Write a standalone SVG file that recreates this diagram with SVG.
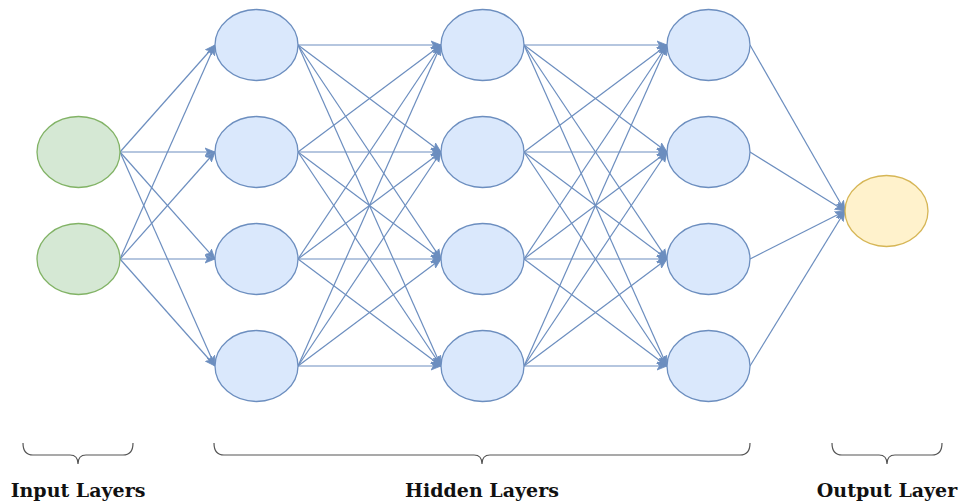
<svg xmlns="http://www.w3.org/2000/svg" width="963" height="504" viewBox="0 0 963 504">
<style>
.h{fill:#dae8fc;stroke:#6c8ebf;stroke-width:1.3}
.i{fill:#d5e8d4;stroke:#82b366;stroke-width:1.3}
.o{fill:#fff2cc;stroke:#d6b656;stroke-width:1.3}
.e{stroke:#6c8ebf;stroke-width:1.2;fill:none;marker-end:url(#a)}
.b{stroke:#555;stroke-width:1.2;fill:none}
.t{font-family:"DejaVu Serif",serif;font-weight:bold;font-size:19px;fill:#111;text-anchor:middle}
</style>
<defs>
<marker id="a" viewBox="0 0 10 10" refX="10" refY="5" markerWidth="10" markerHeight="10" markerUnits="userSpaceOnUse" orient="auto">
<path d="M0,1 L10,5 L0,9 L2.5,5 Z" fill="#6c8ebf" stroke="#6c8ebf" stroke-width="0.8"/>
</marker>
</defs>
<g id="connectors">
<path class="e" d="M120,152L215,45"/><path class="e" d="M120,152L215,152"/><path class="e" d="M120,152L215,259"/><path class="e" d="M120,152L215,366"/>
<path class="e" d="M120,259L215,45"/><path class="e" d="M120,259L215,152"/><path class="e" d="M120,259L215,259"/><path class="e" d="M120,259L215,366"/>
<path class="e" d="M298,45L441,45"/><path class="e" d="M298,45L441,152"/><path class="e" d="M298,45L441,259"/><path class="e" d="M298,45L441,366"/>
<path class="e" d="M298,152L441,45"/><path class="e" d="M298,152L441,152"/><path class="e" d="M298,152L441,259"/><path class="e" d="M298,152L441,366"/>
<path class="e" d="M298,259L441,45"/><path class="e" d="M298,259L441,152"/><path class="e" d="M298,259L441,259"/><path class="e" d="M298,259L441,366"/>
<path class="e" d="M298,366L441,45"/><path class="e" d="M298,366L441,152"/><path class="e" d="M298,366L441,259"/><path class="e" d="M298,366L441,366"/>
<path class="e" d="M524,45L667,45"/><path class="e" d="M524,45L667,152"/><path class="e" d="M524,45L667,259"/><path class="e" d="M524,45L667,366"/>
<path class="e" d="M524,152L667,45"/><path class="e" d="M524,152L667,152"/><path class="e" d="M524,152L667,259"/><path class="e" d="M524,152L667,366"/>
<path class="e" d="M524,259L667,45"/><path class="e" d="M524,259L667,152"/><path class="e" d="M524,259L667,259"/><path class="e" d="M524,259L667,366"/>
<path class="e" d="M524,366L667,45"/><path class="e" d="M524,366L667,152"/><path class="e" d="M524,366L667,259"/><path class="e" d="M524,366L667,366"/>
<path class="e" d="M750,45L845,211"/><path class="e" d="M750,152L845,211"/><path class="e" d="M750,259L845,211"/><path class="e" d="M750,366L845,211"/>
</g>
<g id="in1"><ellipse class="i" cx="78.5" cy="152" rx="41.5" ry="35.5"/></g>
<g id="in2"><ellipse class="i" cx="78.5" cy="259" rx="41.5" ry="35.5"/></g>
<g id="h1a"><ellipse class="h" cx="256.5" cy="45" rx="41.5" ry="35.5"/></g>
<g id="h1b"><ellipse class="h" cx="256.5" cy="152" rx="41.5" ry="35.5"/></g>
<g id="h1c"><ellipse class="h" cx="256.5" cy="259" rx="41.5" ry="35.5"/></g>
<g id="h1d"><ellipse class="h" cx="256.5" cy="366" rx="41.5" ry="35.5"/></g>
<g id="h2a"><ellipse class="h" cx="482.5" cy="45" rx="41.5" ry="35.5"/></g>
<g id="h2b"><ellipse class="h" cx="482.5" cy="152" rx="41.5" ry="35.5"/></g>
<g id="h2c"><ellipse class="h" cx="482.5" cy="259" rx="41.5" ry="35.5"/></g>
<g id="h2d"><ellipse class="h" cx="482.5" cy="366" rx="41.5" ry="35.5"/></g>
<g id="h3a"><ellipse class="h" cx="708.5" cy="45" rx="41.5" ry="35.5"/></g>
<g id="h3b"><ellipse class="h" cx="708.5" cy="152" rx="41.5" ry="35.5"/></g>
<g id="h3c"><ellipse class="h" cx="708.5" cy="259" rx="41.5" ry="35.5"/></g>
<g id="h3d"><ellipse class="h" cx="708.5" cy="366" rx="41.5" ry="35.5"/></g>
<g id="out"><ellipse class="o" cx="886.5" cy="211" rx="41.5" ry="35.5"/></g>
<g id="brace-input">
<path class="b" d="M23,443Q23,455 33,455L70,455Q78,455 78,464Q78,455 86,455L123,455Q133,455 133,443"/>
<text class="t" x="78" y="497">Input Layers</text>
</g>
<g id="brace-hidden">
<path class="b" d="M214,443Q214,455 224,455L474,455Q482,455 482,464Q482,455 490,455L740,455Q750,455 750,443"/>
<text class="t" x="482" y="497">Hidden Layers</text>
</g>
<g id="brace-output">
<path class="b" d="M832,443Q832,455 842,455L879,455Q887,455 887,464Q887,455 895,455L932,455Q942,455 942,443"/>
<text class="t" x="887" y="497">Output Layer</text>
</g>
</svg>
